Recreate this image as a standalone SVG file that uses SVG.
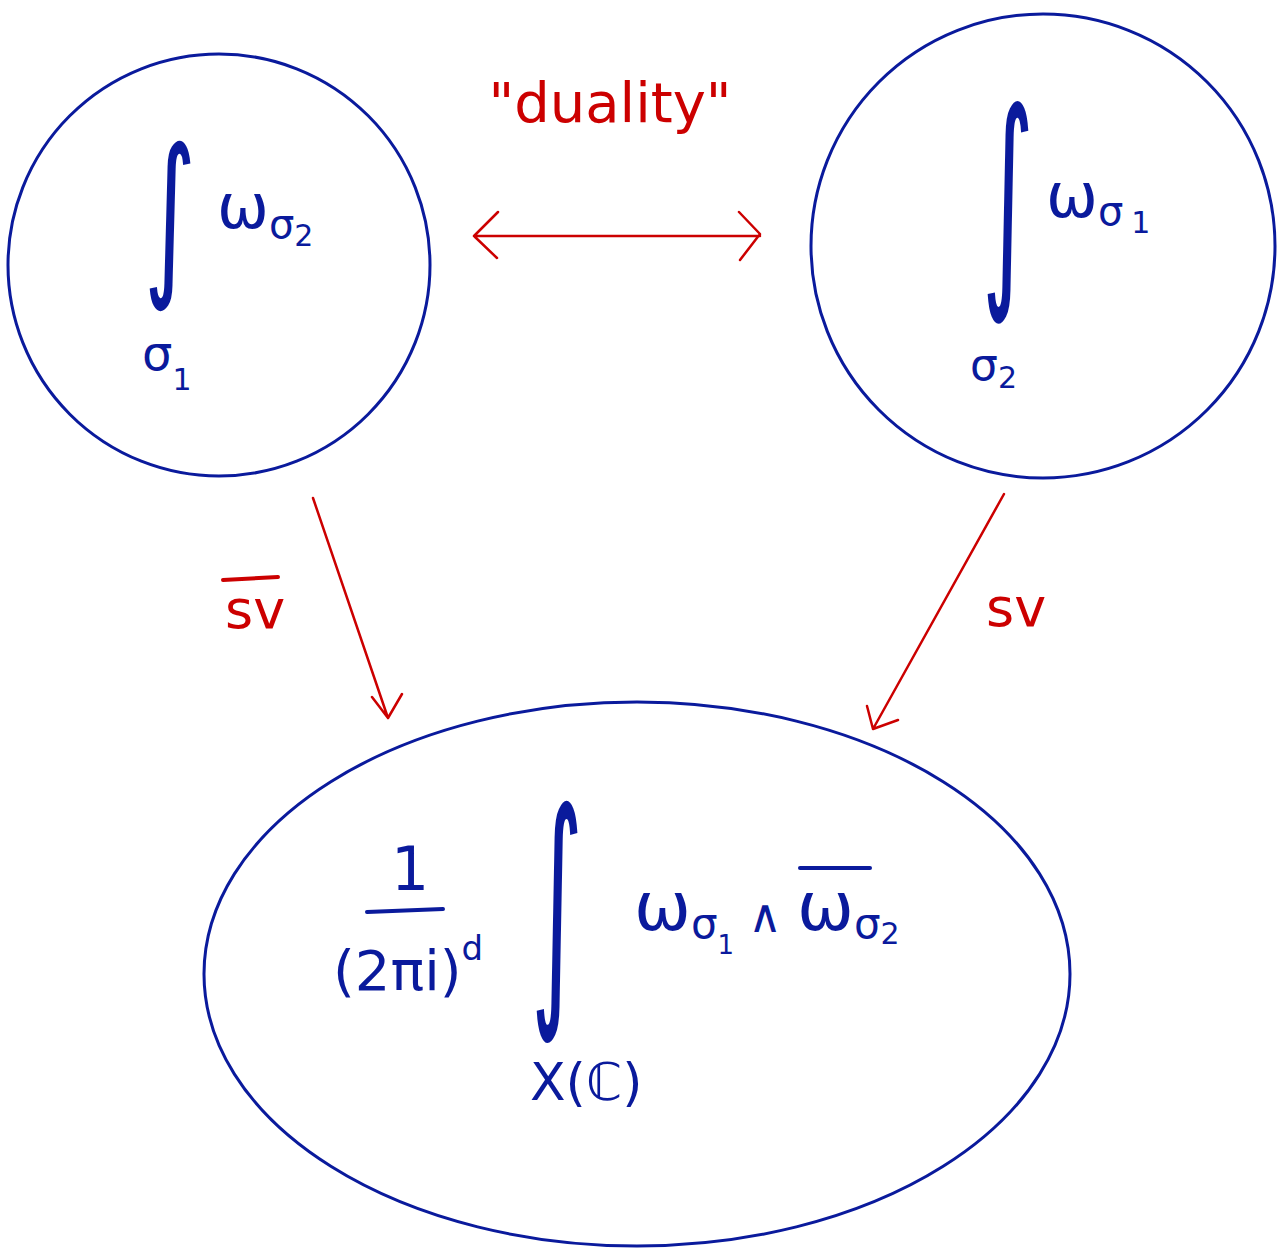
<svg xmlns="http://www.w3.org/2000/svg" width="1287" height="1260" viewBox="0 0 1287 1260">
<style>
.node{fill:none;stroke:#0a1a9c;stroke-width:3}
.m{fill:#0a1a9c;font-family:"DejaVu Sans",sans-serif}
.r{fill:#cc0000;font-family:"DejaVu Sans",sans-serif}
.ln{stroke:#cc0000;stroke-width:2.5;fill:none;stroke-linecap:round;stroke-linejoin:round}
.ov{stroke-width:4;stroke-linecap:round}
</style>
<rect width="1287" height="1260" fill="#fff"/>
<g id="left">
<circle class="node" cx="219" cy="265" r="211"/>
<text class="m" transform="translate(170,274) scale(0.5,0.88)" font-size="200" text-anchor="middle">∫</text>
<text class="m" x="217" y="228" font-size="62">ω<tspan font-size="40" dy="10">σ</tspan><tspan font-size="30" dy="8">2</tspan></text>
<text class="m" x="142" y="370" font-size="48">σ<tspan font-size="30" dy="20">1</tspan></text>
</g>
<g id="right">
<circle class="node" cx="1043" cy="246" r="232"/>
<text class="m" transform="translate(1008,275) scale(0.5,1.15)" font-size="200" text-anchor="middle">∫</text>
<text class="m" x="1046" y="217" font-size="62">ω<tspan font-size="40" dy="8">σ</tspan><tspan font-size="30" dx="8" dy="8">1</tspan></text>
<text class="m" x="970" y="380" font-size="44">σ<tspan font-size="30" dy="8">2</tspan></text>
</g>
<g id="bottom">
<ellipse class="node" cx="637" cy="974" rx="433" ry="272"/>
<text class="m" x="410" y="890" font-size="60" text-anchor="middle">1</text>
<line x1="367" y1="912" x2="443" y2="909" stroke="#0a1a9c" class="ov"/>
<text class="m" x="333" y="990" font-size="56">(2πi)<tspan font-size="34" dy="-30">d</tspan></text>
<text class="m" transform="translate(557,990) scale(0.5,1.25)" font-size="200" text-anchor="middle">∫</text>
<text class="m" x="530" y="1100" font-size="52">X(ℂ)</text>
<text class="m" x="634" y="930" font-size="68">ω<tspan font-size="42" dy="8">σ</tspan><tspan font-size="26" dy="16">1</tspan><tspan font-size="46" dx="14" dy="-22">∧</tspan></text>
<line x1="800" y1="868" x2="870" y2="868" stroke="#0a1a9c" class="ov"/>
<text class="m" x="797" y="930" font-size="68">ω<tspan font-size="42" dy="8">σ</tspan><tspan font-size="30" dy="6">2</tspan></text>
</g>
<g id="connectors">
<path class="ln" d="M474,236 L760,236 M498,212 L474,236 L497,258 M739,212 L760,234 L740,260"/>
<path class="ln" d="M313,498 L388,718 M372,697 L388,718 L402,694"/>
<path class="ln" d="M1004,494 L873,729 M867,706 L873,729 L898,720"/>
<text class="r" x="610" y="122" font-size="56" text-anchor="middle">"duality"</text>
<text class="r" x="225" y="628" font-size="54">sv</text>
<line x1="223" y1="580" x2="278" y2="577" stroke="#cc0000" class="ov"/>
<text class="r" x="986" y="626" font-size="54">sv</text>
</g>
</svg>
